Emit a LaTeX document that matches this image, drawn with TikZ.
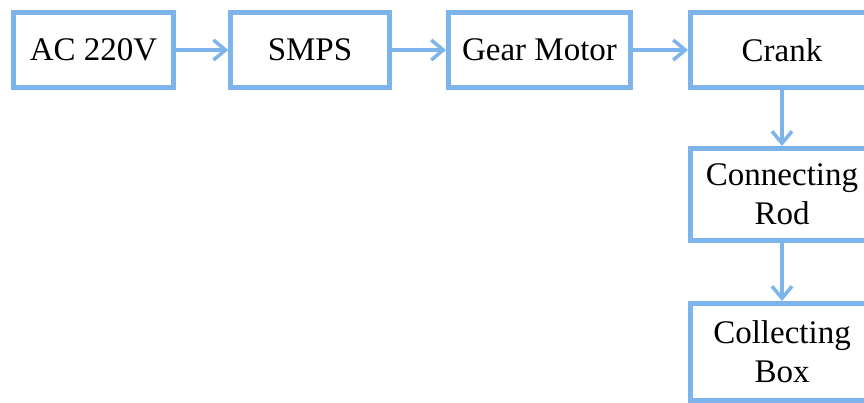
\documentclass[tikz,border=0pt]{standalone}
\usepackage{fontspec}
\setmainfont{Liberation Serif}
\usetikzlibrary{arrows.meta}
\definecolor{boxblue}{RGB}{125,180,236}
\begin{document}
\begin{tikzpicture}[x=1pt,y=-1pt,
  blk/.style={draw=boxblue, line width=5pt, fill=white, rectangle, align=center,
    inner sep=0pt, font=\fontsize{33}{39}\selectfont, text=black},
  conn/.style={draw=boxblue, line width=3.5pt, -{Straight Barb[length=12pt,width=20pt,line width=3.5pt]}}]
\useasboundingbox (0,0) rectangle (864,403);
\clip (0,0) rectangle (864,403);
\node[blk, minimum width=160pt, minimum height=75pt] (ac) at (93.5,50) {AC 220V};
\node[blk, minimum width=158.5pt, minimum height=75pt] (smps) at (310,50) {SMPS};
\node[blk, minimum width=182pt, minimum height=75pt] (gear) at (539.5,50) {Gear Motor};
\node[blk, minimum width=183pt, minimum height=75pt] (crank) at (782,50) {Crank};
\node[blk, minimum width=183pt, minimum height=92pt] (rod) at (782,194.5) {Connecting\\Rod};
\node[blk, minimum width=183pt, minimum height=97pt] (box) at (782,352) {Collecting\\Box};
\draw[conn] (ac) -- (smps);
\draw[conn] (smps) -- (gear);
\draw[conn] (gear) -- (crank);
\draw[conn] (crank) -- (rod);
\draw[conn] (rod) -- (box);
\end{tikzpicture}
\end{document}
